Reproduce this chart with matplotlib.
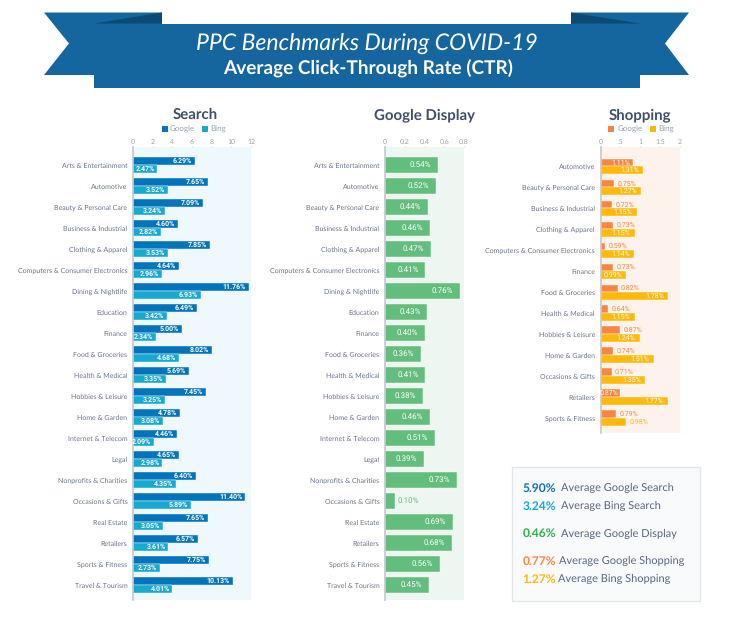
import matplotlib
matplotlib.use("Agg")
from matplotlib import pyplot as plt
from matplotlib.patches import Polygon, Rectangle
import numpy as np

W, H = 734, 621

search_cats = ["Arts & Entertainment", "Automotive", "Beauty & Personal Care", "Business & Industrial",
               "Clothing & Apparel", "Computers & Consumer Electronics", "Dining & Nightlife", "Education",
               "Finance", "Food & Groceries", "Health & Medical", "Hobbies & Leisure", "Home & Garden",
               "Internet & Telecom", "Legal", "Nonprofits & Charities", "Occasions & Gifts", "Real Estate",
               "Retailers", "Sports & Fitness", "Travel & Tourism"]
search_google = [6.29, 7.65, 7.09, 4.60, 7.85, 4.64, 11.76, 6.49, 5.00, 8.02, 5.69, 7.45, 4.78, 4.46, 4.65,
                 6.40, 11.40, 7.65, 6.57, 7.75, 10.13]
search_bing = [2.47, 3.52, 3.24, 2.82, 3.53, 2.96, 6.93, 3.42, 2.34, 4.68, 3.35, 3.25, 3.08, 2.09, 2.98,
               4.35, 5.89, 3.05, 3.61, 2.73, 4.01]
display_vals = [0.54, 0.52, 0.44, 0.46, 0.47, 0.41, 0.76, 0.43, 0.40, 0.36, 0.41, 0.38, 0.46, 0.51, 0.39,
                0.73, 0.10, 0.69, 0.68, 0.56, 0.45]

shop_cats = ["Automotive", "Beauty & Personal Care", "Business & Industrial", "Clothing & Apparel",
             "Computers & Consumer Electronics", "Finance", "Food & Groceries", "Health & Medical",
             "Hobbies & Leisure", "Home & Garden", "Occasions & Gifts", "Retailers", "Sports & Fitness"]
# bar lengths in the original do not agree with the printed labels, so keep both
shop_google = [0.81, 0.34, 0.29, 0.31, 0.125, 0.31, 0.43, 0.19, 0.49, 0.32, 0.28, 0.49, 0.385]
shop_bing = [1.08, 1.02, 0.91, 0.86, 0.85, 0.65, 1.70, 0.86, 0.99, 1.34, 1.13, 1.69, 0.64]
shop_google_lbl = [1.11, 0.75, 0.72, 0.73, 0.59, 0.73, 0.82, 0.64, 0.87, 0.74, 0.71, 0.87, 0.79]
shop_bing_lbl = [1.31, 1.27, 1.15, 1.15, 1.14, 0.99, 1.78, 1.15, 1.24, 1.51, 1.35, 1.77, 0.98]
google_inside = ["Automotive", "Retailers"]
bing_outside = ["Sports & Fitness"]

summary_vals = ["5.90%", "3.24%", "0.46%", "0.77%", "1.27%"]
summary_names = ["Average Google Search", "Average Bing Search", "Average Google Display",
                 "Average Google Shopping", "Average Bing Shopping"]

FONT = "Lato"
plt.rcParams["font.family"] = [FONT, "DejaVu Sans"]
plt.rcParams["text.hinting"] = "no_hinting"
plt.rcParams["text.hinting_factor"] = 1
INK = "#69748c"
TITLE = "#3f4f6b"
TICK = "#9aa3ae"
C_GOOGLE = "#0174bb"
C_BING = "#17a9cf"
C_DISPLAY = "#63bd7c"
C_SHOP_G = "#f98640"
C_SHOP_B = "#ffb90a"

fig = plt.figure(figsize=(W / 100, H / 100), dpi=100, facecolor="white")

# full-figure layer in pixel coordinates for banner, headings and the summary box
bg = fig.add_axes([0, 0, 1, 1])
bg.set_xlim(0, W)
bg.set_ylim(H, 0)
bg.axis("off")


def panel(x0, x1, y0, y1, xmax, ticks, ticklabels, facecolor, cats, first=18.0, step=21.0):
    ax = fig.add_axes([x0 / W, 1 - y1 / H, (x1 - x0) / W, (y1 - y0) / H])
    ax.set_facecolor(facecolor)
    ax.set_xlim(0, xmax)
    # first category centre sits a fixed distance below the top of the panel
    ax.set_ylim((y1 - y0 - first) / step, -first / step)
    ax.xaxis.tick_top()
    ax.set_xticks(ticks)
    ax.set_xticklabels(ticklabels, fontsize=5.3, color=TICK)
    ax.tick_params(axis="x", length=1, width=0.5, color="#c9ced6", pad=0.3)
    ax.tick_params(axis="y", length=0, pad=4, labelsize=5.4, labelcolor=INK)
    for side in ["top", "right", "bottom"]:
        ax.spines[side].set_visible(False)
    ax.spines["left"].set_color("#c3c8d0")
    ax.spines["left"].set_linewidth(1.2)
    ax.set_yticks(np.arange(len(cats)))
    ax.set_yticklabels(cats, va="center_baseline")
    return ax


def bar_label(ax, y, x, text, color, outside=False, size=4.8, off=2, weight="bold"):
    if outside:
        ax.annotate(text, (x, y), xytext=(off, 0), textcoords="offset points", ha="left", va="center",
                    fontsize=size, color=color, family="Roboto")
    else:
        ax.annotate(text, (x, y), xytext=(-off, 0), textcoords="offset points", ha="right", va="center",
                    fontsize=size, color=color, fontweight=weight, family="Roboto")


# banner
banner = "#15669f"
fold = "#0b4a75"
bg.add_patch(Polygon([(44, 12.5), (162, 12.5), (162, 75), (44, 75), (69, 43.5)], fc=banner, ec="none"))
bg.add_patch(Polygon([(689, 12.5), (571, 12.5), (571, 75), (689, 75), (665, 43.5)], fc=banner, ec="none"))
bg.add_patch(Polygon([(94, 23.5), (162, 12.5), (162, 23.5)], fc=fold, ec="none"))
bg.add_patch(Polygon([(640, 23.5), (571, 12.5), (571, 23.5)], fc=fold, ec="none"))
bg.add_patch(Rectangle((94, 23.5), 546, 64, fc=banner, ec="none"))
bg.text(367, 44, "PPC Benchmarks During COVID-19", color="white", fontsize=16.4, style="italic",
        fontweight="normal", ha="center", va="center")
bg.text(368, 68.5, "Average Click-Through Rate (CTR)", color="white", fontsize=13.35, fontweight="bold",
        ha="center", va="center")

# headings
for cx, name in [(195, "Search"), (425, "Google Display"), (640, "Shopping")]:
    bg.text(cx, 115, name, color=TITLE, fontsize=11, fontweight="bold", ha="center", va="center")

# legends
for sx, tx, col, name in [(162, 170, C_GOOGLE, "Google"), (202, 210, C_BING, "Bing"),
                          (608, 618, C_SHOP_G, "Google"), (650, 658, C_SHOP_B, "Bing")]:
    bg.add_patch(Rectangle((sx, 126), 6, 6, fc=col, ec="none"))
    bg.text(tx, 129.5, name, color=TICK, fontsize=5.7, ha="left", va="center")

# search panel
ax1 = panel(133, 251, 147, 600, 12, [0, 2, 4, 6, 8, 10, 12], ["0", "2", "4", "6", "8", "10", "12"], "#eef8fd",
            search_cats)
y = np.arange(len(search_cats))
ax1.barh(y - 0.185, search_google, height=0.37, color=C_GOOGLE, edgecolor="white", linewidth=0.3)
ax1.barh(y + 0.185, search_bing, height=0.37, color=C_BING, edgecolor="white", linewidth=0.3)
for i in y:
    bar_label(ax1, i - 0.185, search_google[i], "%.2f%%" % search_google[i], "white")
    bar_label(ax1, i + 0.185, search_bing[i], "%.2f%%" % search_bing[i], "white")

# display panel
ax2 = panel(385, 464, 147, 600, 0.8, [0, 0.2, 0.4, 0.6, 0.8], ["0", "0.2", "0.4", "0.6", "0.8"], "#eef6f1",
            search_cats)
ax2.barh(y, display_vals, height=0.72, color=C_DISPLAY, edgecolor="white", linewidth=0.3)
for i in y:
    if display_vals[i] < 0.2:
        bar_label(ax2, i, display_vals[i], "%.2f%%" % display_vals[i], C_DISPLAY, outside=True, size=5.5)
    else:
        bar_label(ax2, i, display_vals[i], "%.2f%%" % display_vals[i], "white", size=5.5, off=5, weight="normal")

# shopping panel
ax3 = panel(600.5, 680, 147, 433, 2, [0, 0.5, 1, 1.5, 2], ["0", ".5", "1", "1.5", "2"], "#fdf3ec", shop_cats,
            first=19.5, step=20.96)
ys = np.arange(len(shop_cats))
ax3.barh(ys - 0.185, shop_google, height=0.37, color=C_SHOP_G, edgecolor="white", linewidth=0.3)
ax3.barh(ys + 0.185, shop_bing, height=0.37, color=C_SHOP_B, edgecolor="white", linewidth=0.3)
for i in ys:
    inside = shop_cats[i] in google_inside
    bar_label(ax3, i - 0.185, shop_google[i], "%.2f%%" % shop_google_lbl[i], "white" if inside else C_SHOP_G,
              outside=not inside, weight="normal", off=2.5 if not inside else 1.5)
    out = shop_cats[i] in bing_outside
    bar_label(ax3, i + 0.185, shop_bing[i], "%.2f%%" % shop_bing_lbl[i], C_SHOP_B if out else "white",
              outside=out, weight="normal", off=3)

# summary box
bg.add_patch(Rectangle((511.5, 466.5), 188.5, 134, fc="#f9fafb", ec="#e3e6e9", lw=1))
sum_colors = ["#0f6fb5", "#17a9cf", "#2fb04f", "#f98640", "#ffb90a"]
sum_y = [488, 506, 533.5, 561, 579]
sum_x = [561, 561, 561, 559, 558]
for val, name, col, yy, xx in zip(summary_vals, summary_names, sum_colors, sum_y, sum_x):
    bg.text(522.5, yy, val, color=col, fontsize=8.6, fontweight="bold", ha="left", va="center")
    bg.text(xx, yy, name, color="#5a6680", fontsize=8.15, ha="left", va="center")

fig.savefig("out.png", dpi=100)
